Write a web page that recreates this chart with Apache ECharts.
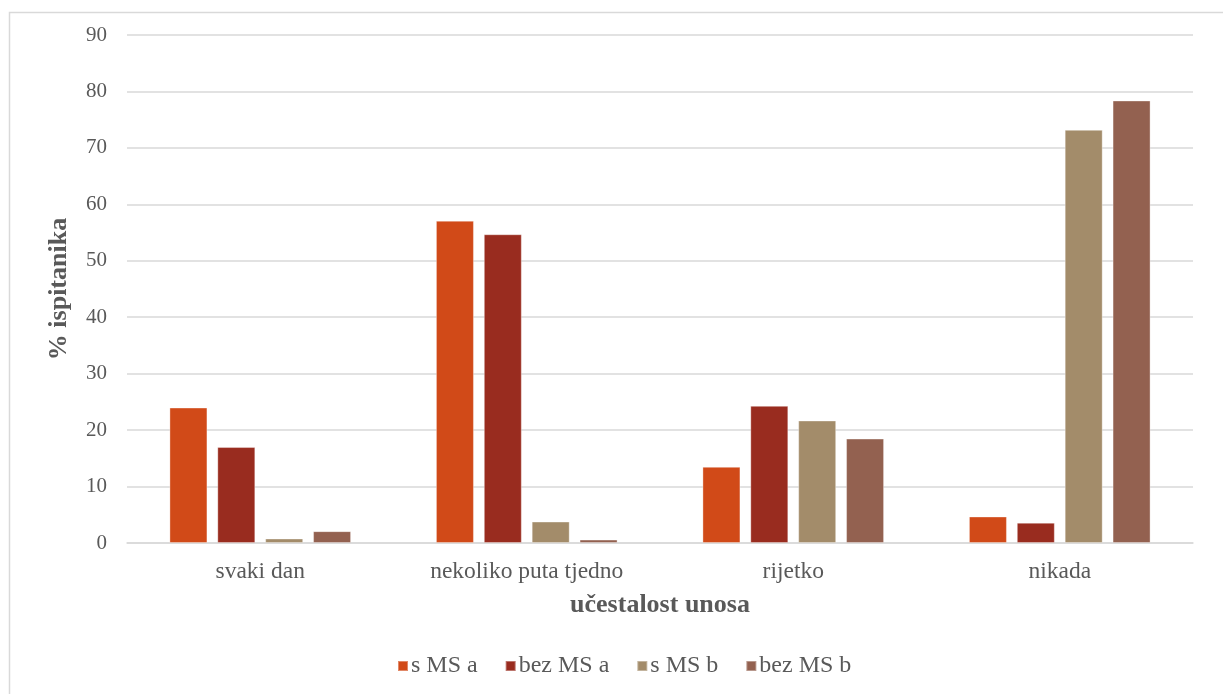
<!DOCTYPE html>
<html>
<head>
<meta charset="utf-8">
<script src="https://cdn.jsdelivr.net/npm/echarts@6/dist/echarts.min.js"></script>
<style>
html,body{margin:0;padding:0;background:#fff;}
#chart{width:1223px;height:694px;}
</style>
</head>
<body>
<div id="chart"></div>
<script>
const categories = ['svaki dan', 'nekoliko puta tjedno', 'rijetko', 'nikada'];
const seriesNames = ['s MS a', 'bez MS a', 's MS b', 'bez MS b'];
const sMSa = [24.0, 57.1, 13.5, 4.7];
const bezMSa = [17.0, 54.7, 24.3, 3.6];
const sMSb = [0.8, 3.8, 21.7, 73.2];
const bezMSb = [2.1, 0.6, 18.5, 78.4];
const yTicks = [0, 10, 20, 30, 40, 50, 60, 70, 80, 90];

const colors = ['#D14A18', '#992C1F', '#A38C6A', '#936150'];
const allData = [sMSa, bezMSa, sMSb, bezMSb];
const font = '"Liberation Serif", "Times New Roman", serif';

const chart = echarts.init(document.getElementById('chart'), null, {renderer: 'canvas'});
chart.setOption({
  animation: false,
  backgroundColor: '#fff',
  textStyle: {fontFamily: font},
  graphic: [{
    type: 'rect', left: 7, top: 10,
    shape: {width: 1240, height: 720},
    style: {fill: 'none', stroke: '#d9d9d9', lineWidth: 1.5},
    silent: true
  }],
  grid: {left: 127, right: 30, top: 35, bottom: 151, containLabel: false},
  legend: {
    bottom: 11,
    left: 392,
    itemWidth: 10,
    itemHeight: 10,
    itemGap: 27,
    icon: 'rect',
    textStyle: {fontFamily: font, fontSize: 24, color: '#595959', padding: [0, 0, 0, -2]},
    data: seriesNames
  },
  xAxis: {
    type: 'category',
    data: categories,
    name: 'učestalost unosa',
    nameLocation: 'middle',
    nameGap: 49,
    nameTextStyle: {fontFamily: font, fontSize: 26, fontWeight: 'bold', color: '#595959'},
    axisLine: {lineStyle: {color: '#d9d9d9', width: 1.5}},
    axisTick: {show: false},
    axisLabel: {fontFamily: font, fontSize: 23.5, color: '#595959', margin: 17}
  },
  yAxis: {
    type: 'value',
    min: 0, max: 90, interval: 10,
    name: '% ispitanika',
    nameLocation: 'middle',
    nameGap: 55,
    nameTextStyle: {fontFamily: font, fontSize: 26, fontWeight: 'bold', color: '#595959'},
    axisLine: {show: false},
    axisTick: {show: false},
    splitLine: {lineStyle: {color: '#d9d9d9', width: 1.5}},
    axisLabel: {
      fontFamily: font, fontSize: 21, color: '#595959', margin: 20,
      formatter: v => yTicks.includes(v) ? String(v) : ''
    }
  },
  series: seriesNames.map((n, i) => ({
    name: n,
    type: 'bar',
    data: allData[i],
    barWidth: 38,
    barGap: '26%',
    itemStyle: {color: colors[i], borderColor: 'rgba(255,255,255,0.35)', borderWidth: 1}
  }))
});
</script>
</body>
</html>
